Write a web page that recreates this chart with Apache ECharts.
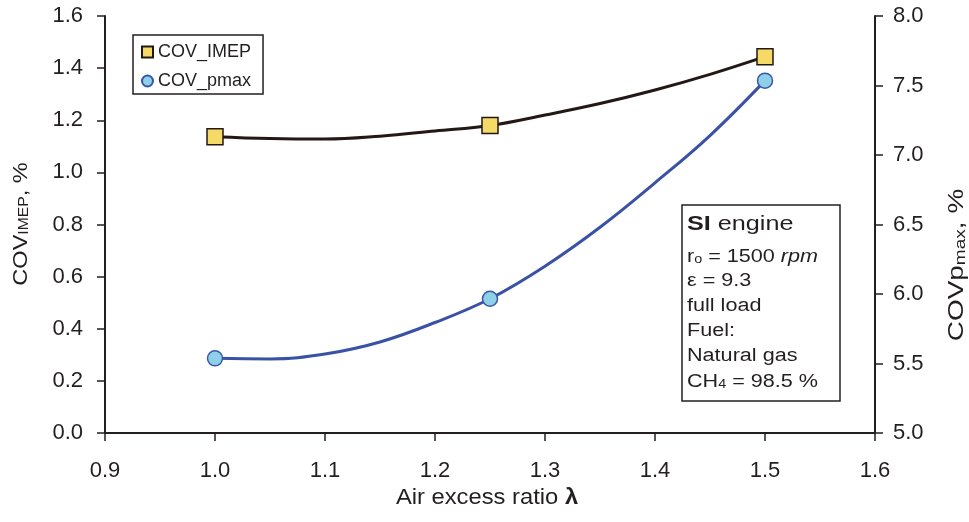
<!DOCTYPE html>
<html>
<head>
<meta charset="utf-8">
<script src="https://cdn.jsdelivr.net/npm/echarts@6/dist/echarts.min.js"></script>
<style>
  html, body { margin: 0; padding: 0; background: #fff; }
  #chart { width: 969px; height: 522px; }
</style>
</head>
<body>
<div id="chart"></div>
<script>
  // measured points
  const lambdaPts = [1.0, 1.25, 1.5]
  const covImep = [1.137, 1.180, 1.444]
  const covPmax = [5.537, 5.966, 7.535]

  // trend curves
  const fitLambda = [1.0, 1.05, 1.1, 1.15, 1.2, 1.25, 1.3, 1.35, 1.4, 1.45, 1.5]
  const fitImep = [1.137, 1.130, 1.128, 1.139, 1.159, 1.180, 1.220, 1.264, 1.316, 1.376, 1.444]
  const fitPmax = [5.537, 5.533, 5.568, 5.655, 5.795, 5.966, 6.200, 6.480, 6.800, 7.140, 7.535]

  const pair = (xs, ys) => xs.map((x, i) => [x, ys[i]])

  const ink = '#231f20'
  const font = "'Liberation Sans', Arial, sans-serif"

  let chart = echarts.init(document.getElementById('chart'))

  const axisBase = {
    axisLine: { show: true, lineStyle: { color: ink, width: 2 } },
    axisTick: { show: true, inside: false, length: 8, lineStyle: { color: ink, width: 1.5 } },
    splitLine: { show: false },
    axisLabel: {
      color: ink, fontSize: 22, fontFamily: font,
      formatter: v => v.toFixed(1)
    }
  }

  // info box text lines (stretched a bit like the original print)
  const boxSub = { fontSize: 12, lineHeight: 8, verticalAlign: 'bottom', fontFamily: font, fill: ink }
  const boxMain = { fontSize: 18, lineHeight: 18, fontFamily: font, fill: ink }
  const boxLine = (y, text, rich) => ({
    type: 'text', x: 687, y: y, scaleX: 1.2, z: 20,
    style: Object.assign({ text: text, verticalAlign: 'middle', fontSize: 18, fontFamily: font, fill: ink },
      rich ? { rich: rich } : {})
  })

  chart.setOption({
    animation: false,
    backgroundColor: '#fff',
    grid: { left: 105, right: 94, top: 16, bottom: 89 },
    legend: {
      data: ['COV_IMEP', 'COV_pmax'],
      orient: 'vertical',
      left: 133,
      top: 35,
      padding: [8, 12, 4, 8],
      itemGap: 11,
      itemWidth: 11,
      itemHeight: 11,
      borderColor: ink,
      borderWidth: 1.5,
      backgroundColor: '#fff',
      textStyle: { color: ink, fontSize: 18, fontFamily: font, lineHeight: 18 }
    },
    xAxis: Object.assign({}, axisBase, {
      type: 'value', min: 0.9, max: 1.6, interval: 0.1,
      axisLabel: Object.assign({}, axisBase.axisLabel, { margin: 27 })
    }),
    yAxis: [
      Object.assign({}, axisBase, {
        type: 'value', min: 0, max: 1.6, interval: 0.2, position: 'left',
        axisLabel: Object.assign({}, axisBase.axisLabel, { margin: 22 })
      }),
      Object.assign({}, axisBase, {
        type: 'value', min: 5, max: 8, interval: 0.5, position: 'right',
        axisLabel: Object.assign({}, axisBase.axisLabel, { margin: 18 })
      })
    ],
    series: [
      {
        name: 'fit IMEP', type: 'line', smooth: 0.4, showSymbol: false, z: 2,
        data: pair(fitLambda, fitImep),
        lineStyle: { color: '#231815', width: 3 }
      },
      {
        name: 'fit pmax', type: 'line', smooth: 0.4, showSymbol: false, z: 2, yAxisIndex: 1,
        data: pair(fitLambda, fitPmax),
        lineStyle: { color: '#3a52a6', width: 3 }
      },
      {
        name: 'COV_IMEP', type: 'scatter', symbol: 'rect', symbolSize: 16, z: 3,
        data: pair(lambdaPts, covImep),
        itemStyle: { color: '#f6da67', borderColor: '#231815', borderWidth: 1.5, opacity: 1 }
      },
      {
        name: 'COV_pmax', type: 'scatter', symbol: 'circle', symbolSize: 15, z: 3, yAxisIndex: 1,
        data: pair(lambdaPts, covPmax),
        itemStyle: { color: '#8ed0e8', borderColor: '#3a56a8', borderWidth: 1.5, opacity: 1 }
      }
    ],
    graphic: [
      // x axis title
      {
        type: 'text', x: 487, y: 498, scaleX: 1.08, z: 10,
        style: {
          text: '{m|Air excess ratio }{b|λ}',
          align: 'center', verticalAlign: 'middle',
          rich: {
            m: { fontSize: 22, fontFamily: font, fill: ink },
            b: { fontSize: 22, fontFamily: font, fontWeight: 'bold', fill: ink }
          }
        }
      },
      // left y title
      {
        type: 'text', x: 21, y: 224, rotation: Math.PI / 2, scaleX: 1.12, z: 10,
        style: {
          text: '{m|COV}{s|IMEP}{m|, %}',
          align: 'center', verticalAlign: 'middle',
          rich: {
            m: { fontSize: 21, lineHeight: 21, fontFamily: font, fill: ink },
            s: { fontSize: 14, lineHeight: 8, verticalAlign: 'bottom', fontFamily: font, fill: ink }
          }
        }
      },
      // right y title
      {
        type: 'text', x: 957, y: 265, rotation: Math.PI / 2, scaleX: 1.27, z: 10,
        style: {
          text: '{m|COVp}{s|max}{m|, %}',
          align: 'center', verticalAlign: 'middle',
          rich: {
            m: { fontSize: 22, lineHeight: 22, fontFamily: font, fill: ink },
            s: { fontSize: 15, lineHeight: 8, verticalAlign: 'bottom', fontFamily: font, fill: ink }
          }
        }
      },
      // info box
      {
        type: 'rect', z: 10,
        shape: { x: 682, y: 205, width: 158, height: 196 },
        style: { fill: '#fff', stroke: ink, lineWidth: 1.5 }
      },
      boxLine(224, '{b|SI}{m| engine}', {
        b: { fontSize: 21, fontWeight: 'bold', fontFamily: font, fill: ink },
        m: { fontSize: 21, fontFamily: font, fill: ink }
      }),
      boxLine(257, '{m|r}{s|o}{m| = 1500 }{i|rpm}', {
        m: boxMain, s: boxSub,
        i: Object.assign({}, boxMain, { fontStyle: 'italic' })
      }),
      boxLine(281.5, 'ε = 9.3'),
      boxLine(306, 'full load'),
      boxLine(331.5, 'Fuel:'),
      boxLine(356.5, 'Natural gas'),
      boxLine(382, '{m|CH}{s|4}{m| = 98.5 %}', { m: boxMain, s: boxSub })
    ]
  })
</script>
</body>
</html>
